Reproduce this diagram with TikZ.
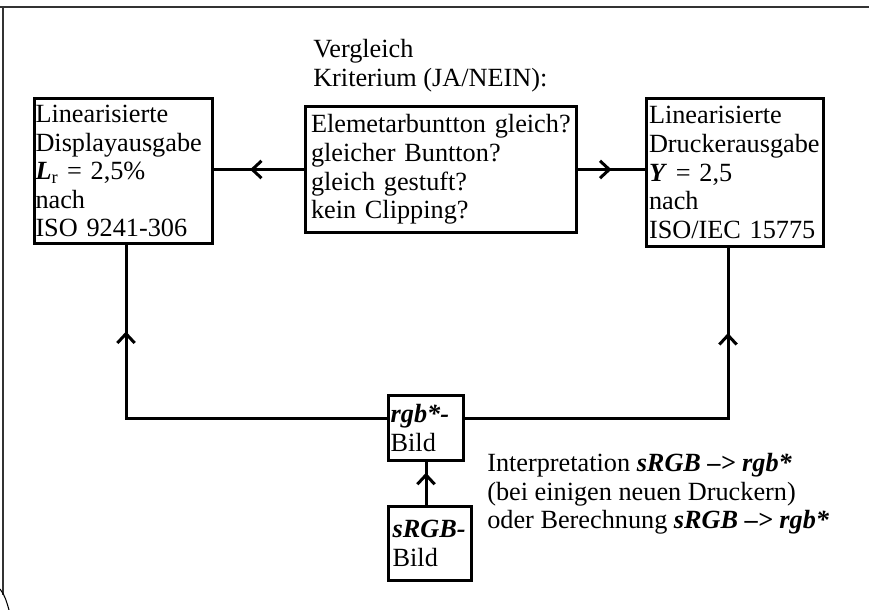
\documentclass[tikz,border=0pt]{standalone}
\usepackage{fontspec}
\setmainfont{Liberation Serif}
\usetikzlibrary{arrows.meta,decorations.markings}

\newcommand{\bi}[1]{\textbf{\textit{#1}}}

\begin{document}
\begin{tikzpicture}[x=0.75pt, y=-0.75pt,
  every node/.style={font=\fontsize{19.7}{21.4}\selectfont},
  box/.style={draw, line width=2.25pt, inner sep=0pt, align=left},
  conn/.style={line width=2.25pt, line cap=rect},
  midarrow/.style={postaction={decorate}, decoration={markings,
    mark=at position #1 with {\arrow{Straight Barb[length=7pt,width=13pt]}}}},
  midarrow/.default=0.5]
  \useasboundingbox (0,0) rectangle (869,610);
  % frame
  \draw[line width=1.1pt, black!80] (0,7) -- (869,7);
  \draw[line width=1.1pt, black!80] (3,7) -- (3,595);
  \draw[line width=0.8pt] (0,589) .. controls (5,595) and (7,603) .. (9,610);

  \node[anchor=north west, inner sep=0pt, align=left] (hdr) at (313,39) {Vergleich\\Kriterium (JA/NEIN):};
  \node[box, minimum width=133.5pt, minimum height=108.75pt, text width=132pt] (disp) at (123.5,171)
    {Linearisierte\\Displayausgabe\\\bi{L}\textsubscript{r} = 2,5\%\\nach\\ISO 9241-306};
  \node[box, minimum width=203.25pt, minimum height=94.5pt, text width=195pt] (crit) at (441,169.5)
    {Elemetarbuntton gleich?\\gleicher Buntton?\\gleich gestuft?\\kein Clipping?};
  \node[box, minimum width=132.75pt, minimum height=111pt, text width=129pt] (druck) at (735,172.5)
    {Linearisierte\\Druckerausgabe\\\bi{Y} = 2,5\\nach\\ISO/IEC 15775};
  \node[box, minimum width=56.25pt, minimum height=48.75pt, text width=53pt] (rgb) at (426,428)
    {\bi{rgb*-}\\Bild};
  \node[box, minimum width=62.25pt, minimum height=55.5pt, text width=56pt] (srgb) at (430,543.5)
    {\bi{sRGB-}\\Bild};
  \node[anchor=north west, inner sep=0pt, align=left] (note) at (487,453)
    {Interpretation \bi{sRGB --> rgb*}\\(bei einigen neuen Druckern)\\oder Berechnung \bi{sRGB --> rgb*}};

  \coordinate (hl) at (0,418);
  \coordinate (cl) at (126,418);
  \coordinate (cr) at (728,418);
  \draw[conn, midarrow=0.6] (crit.west) -- (crit.west -| disp.east);
  \draw[conn, midarrow] (crit.east) -- (crit.east -| druck.west);
  \draw[conn] (rgb.west |- hl) -- (cl);
  \draw[conn, midarrow] (cl) -- (cl |- disp.south);
  \draw[conn] (rgb.east |- hl) -- (cr);
  \draw[conn, midarrow] (cr) -- (cr |- druck.south);
  \draw[conn, midarrow=0.75] (srgb.north -| rgb.south) -- (rgb.south);
\end{tikzpicture}
\end{document}
